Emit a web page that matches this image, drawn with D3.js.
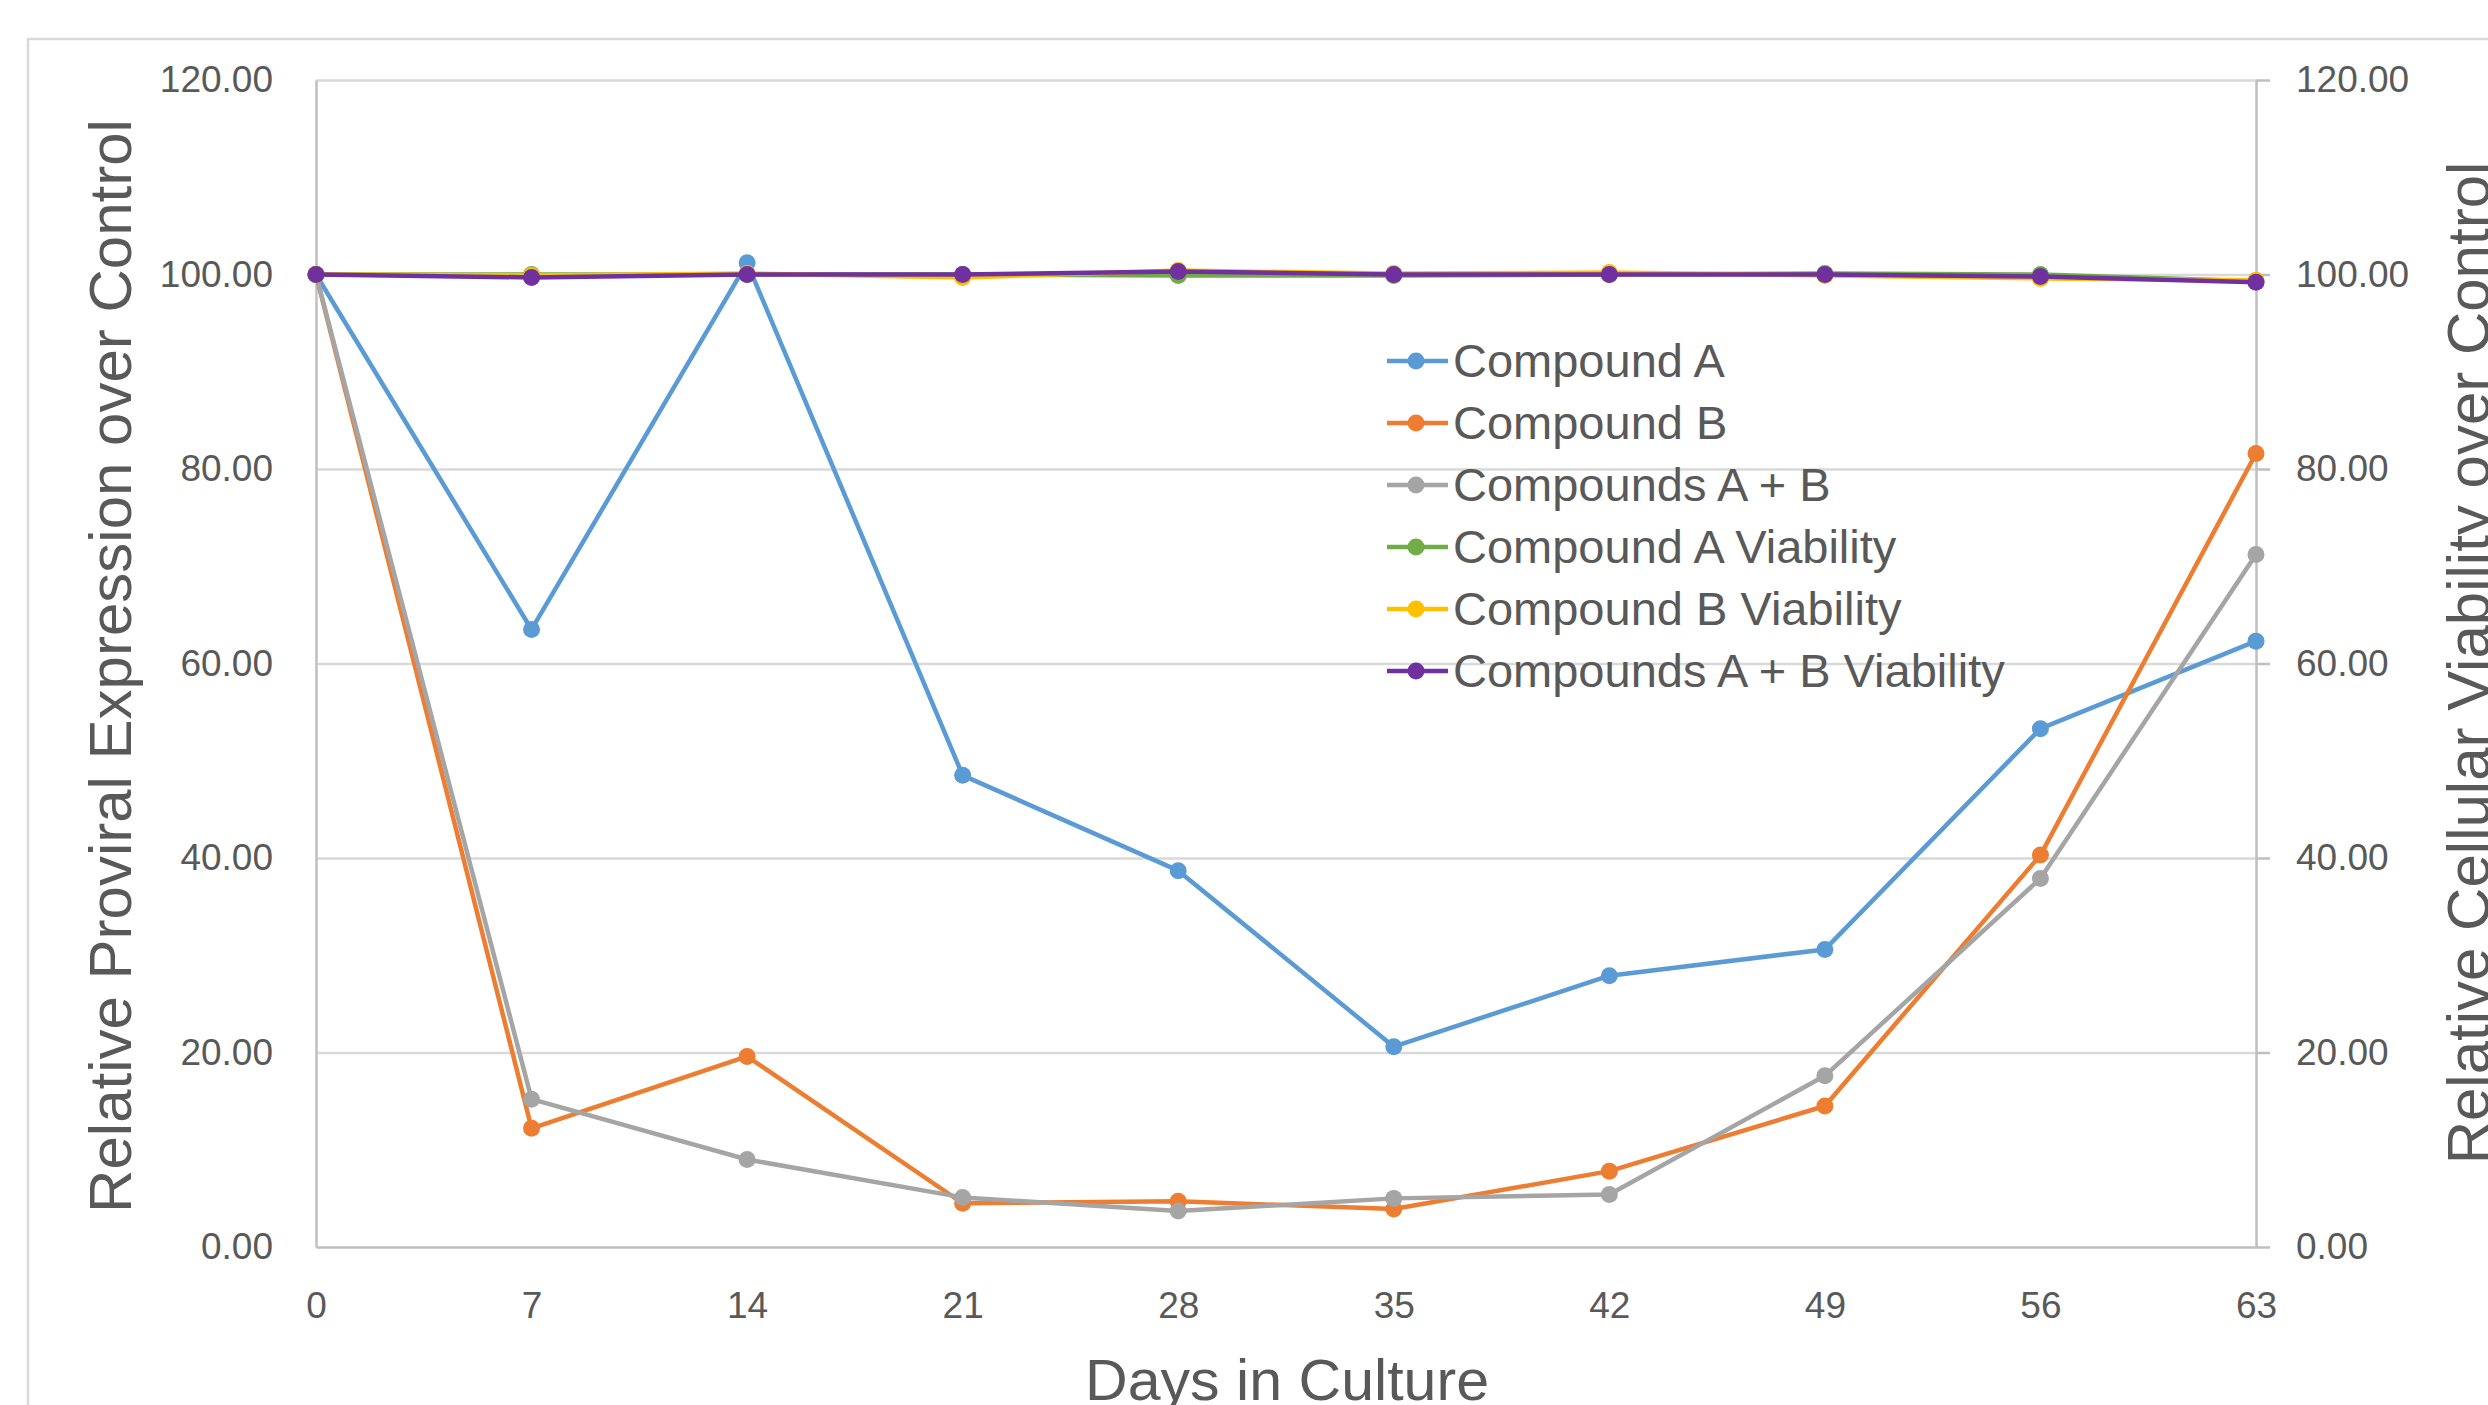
<!DOCTYPE html>
<html>
<head>
<meta charset="utf-8">
<script src="https://cdn.jsdelivr.net/npm/d3@7"></script>
<style>
  html, body { margin: 0; padding: 0; background: #ffffff; overflow: hidden; }
  text { font-family: "Liberation Sans", Arial, sans-serif; fill: #595959; }
</style>
</head>
<body>
<svg id="chart" width="2488" height="1405"></svg>
<script>
// ---- Data ----
const days = [0, 7, 14, 21, 28, 35, 42, 49, 56, 63];
const yTicks = [0, 20, 40, 60, 80, 100, 120];
const seriesNames = ["Compound A", "Compound B", "Compounds A + B",
  "Compound A Viability", "Compound B Viability", "Compounds A + B Viability"];
const seriesColors = ["#5B9BD5", "#ED7D31", "#A5A5A5", "#70AD47", "#FFC000", "#7030A0"];
const compoundA   = [100, 63.5, 101.2, 48.5, 38.7, 20.6, 27.9, 30.6, 53.3, 62.3];
const compoundB   = [100, 12.2, 19.6, 4.5, 4.7, 3.9, 7.8, 14.5, 40.3, 81.6];
const compoundsAB = [100, 15.2, 9.0, 5.1, 3.7, 5.0, 5.4, 17.6, 37.9, 71.2];
const viabilityA  = [100, 100.0, 100.0, 100.0, 99.9, 99.9, 100.0, 100.1, 100.0, 99.3];
const viabilityB  = [100, 99.9, 100.1, 99.7, 100.4, 100.1, 100.2, 99.9, 99.6, 99.4];
const viabilityAB = [100, 99.7, 100.0, 100.0, 100.3, 100.0, 100.0, 100.0, 99.8, 99.2];
const seriesValues = [compoundA, compoundB, compoundsAB, viabilityA, viabilityB, viabilityAB];
const seriesAxis = ["left", "left", "left", "right", "right", "right"];
const leftTitle = "Relative Proviral Expression over Control";
const rightTitle = "Relative Cellular Viability over Control";
const xTitle = "Days in Culture";

// ---- Layout ----
const svg = d3.select("#chart");
const plot = { left: 316, right: 2256, top: 80, bottom: 1247 };
const x = d3.scaleLinear().domain([0, 63]).range([plot.left, plot.right]);
const yL = d3.scaleLinear().domain([0, 120]).range([plot.bottom, plot.top]);
const yR = d3.scaleLinear().domain([0, 120]).range([plot.bottom, plot.top]);
const fmt = d3.format(".2f");
const gridColor = "#D9D9D9";
const axisColor = "#BFBFBF";
const tickFont = 37;

// outer chart border (cropped by the page)
svg.append("rect")
  .attr("x", 28).attr("y", 39).attr("width", 2700).attr("height", 1600)
  .attr("fill", "none").attr("stroke", gridColor).attr("stroke-width", 2.5);

// gridlines
svg.append("g")
  .attr("transform", `translate(${plot.left},0)`)
  .call(d3.axisRight(yL).tickValues(yTicks.filter(t => t > 0))
        .tickSize(plot.right - plot.left).tickFormat(""))
  .call(g => g.select(".domain").remove())
  .call(g => g.selectAll(".tick line").attr("stroke", gridColor).attr("stroke-width", 2.5));

// left axis
svg.append("g")
  .attr("transform", `translate(${plot.left},0)`)
  .call(d3.axisLeft(yL).tickValues(yTicks).tickSize(0).tickSizeOuter(0)
        .tickPadding(43).tickFormat(fmt))
  .call(g => g.select(".domain").attr("stroke", axisColor).attr("stroke-width", 2.5))
  .call(g => g.selectAll(".tick text").attr("font-size", tickFont)
        .attr("font-family", "'Liberation Sans', Arial, sans-serif").attr("fill", "#595959"));

// right axis
svg.append("g")
  .attr("transform", `translate(${plot.right},0)`)
  .call(d3.axisRight(yR).tickValues(yTicks).tickSize(14).tickSizeOuter(0)
        .tickPadding(26).tickFormat(fmt))
  .call(g => g.select(".domain").attr("stroke", axisColor).attr("stroke-width", 2.5))
  .call(g => g.selectAll(".tick line").attr("stroke", axisColor).attr("stroke-width", 2.5))
  .call(g => g.selectAll(".tick text").attr("font-size", tickFont)
        .attr("font-family", "'Liberation Sans', Arial, sans-serif").attr("fill", "#595959"));

// bottom axis
svg.append("g")
  .attr("transform", `translate(0,${plot.bottom})`)
  .call(d3.axisBottom(x).tickValues(days).tickSize(0).tickSizeOuter(0).tickPadding(45))
  .call(g => g.select(".domain").attr("stroke", axisColor).attr("stroke-width", 2.5))
  .call(g => g.selectAll(".tick text").attr("font-size", tickFont)
        .attr("font-family", "'Liberation Sans', Arial, sans-serif").attr("fill", "#595959"));

// series
seriesValues.forEach((vals, si) => {
  const y = seriesAxis[si] === "left" ? yL : yR;
  const line = d3.line().x((d, i) => x(days[i])).y(d => y(d));
  const g = svg.append("g");
  g.append("path").datum(vals)
    .attr("d", line).attr("fill", "none")
    .attr("stroke", seriesColors[si]).attr("stroke-width", 4.5)
    .attr("stroke-linejoin", "round");
  g.selectAll("circle").data(vals).join("circle")
    .attr("cx", (d, i) => x(days[i])).attr("cy", d => y(d))
    .attr("r", 8.5).attr("fill", seriesColors[si]);
});

// legend
const legend = svg.append("g").attr("transform", "translate(1387,361)");
const item = legend.selectAll("g").data(seriesNames).join("g")
  .attr("transform", (d, i) => `translate(0,${i * 62})`);
item.append("line").attr("x1", 0).attr("x2", 61).attr("y1", 0).attr("y2", 0)
  .attr("stroke", (d, i) => seriesColors[i]).attr("stroke-width", 4.5);
item.append("circle").attr("cx", 29).attr("cy", 0).attr("r", 8.5)
  .attr("fill", (d, i) => seriesColors[i]);
item.append("text").attr("x", 66).attr("y", 0).attr("dy", "0.35em")
  .attr("font-size", 47).text(d => d);

// axis titles
svg.append("text")
  .attr("transform", "translate(131,666) rotate(-90)")
  .attr("text-anchor", "middle").attr("font-size", 60)
  .text(leftTitle);
svg.append("text")
  .attr("transform", "translate(2489,663) rotate(-90)")
  .attr("text-anchor", "middle").attr("font-size", 60)
  .text(rightTitle);
svg.append("text")
  .attr("x", 1287).attr("y", 1400)
  .attr("text-anchor", "middle").attr("font-size", 58)
  .attr("textLength", 404).attr("lengthAdjust", "spacingAndGlyphs")
  .text(xTitle);
</script>
</body>
</html>
